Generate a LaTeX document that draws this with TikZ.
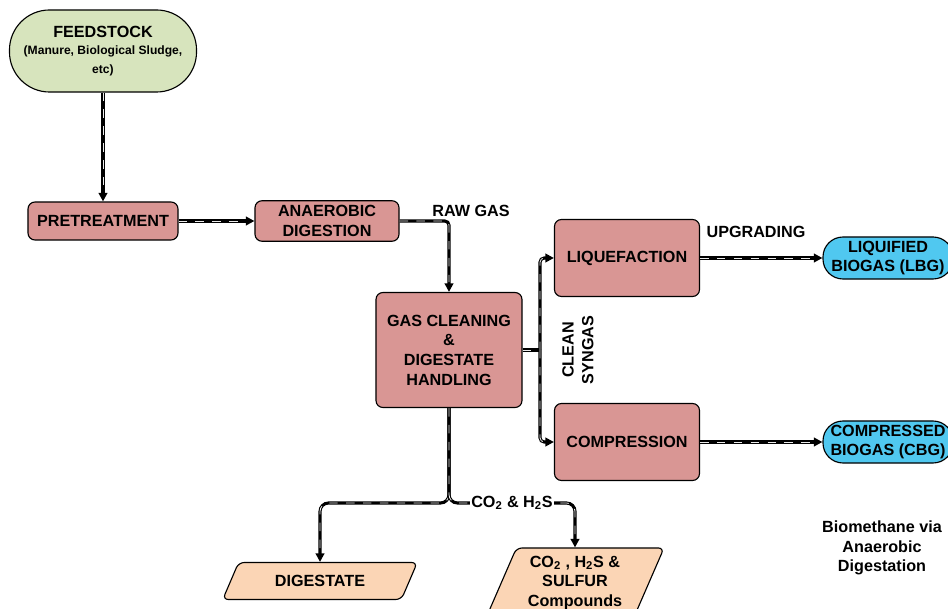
\documentclass[tikz,border=0pt]{standalone}
\usepackage{fontspec}
\setmainfont{Liberation Sans}
\usepackage{tikz}
\usetikzlibrary{positioning, arrows.meta, shapes.geometric}

\definecolor{feedgreen}{RGB}{215,228,189}
\definecolor{procrose}{RGB}{217,150,148}
\definecolor{gasblue}{RGB}{80,200,240}
\definecolor{outpeach}{RGB}{251,213,181}

\newcommand{\smalltxt}{\fontsize{8.6}{10}\selectfont}

\begin{document}
\begin{tikzpicture}[
    x=0.025cm, y=-0.025cm,
    font=\bfseries\fontsize{11.5}{14}\selectfont,
    pill/.style={rectangle, draw, line width=0.8pt, align=center, inner sep=1pt},
    proc/.style={rectangle, draw, line width=0.8pt, rounded corners=5pt, fill=procrose, align=center, minimum width=3.75cm, minimum height=0.95cm},
    outbox/.style={trapezium, trapezium stretches=true, trapezium left angle=65, trapezium right angle=115, draw, line width=0.8pt, rounded corners=4pt, fill=outpeach, align=center},
    lbl/.style={align=center, inner sep=1pt},
    flow/.style={line width=2.2pt, -{Triangle[length=6pt, width=6pt]}, postaction={draw=gray!15, line width=0.6pt, dash pattern=on 6pt off 6pt, -, shorten >=7pt}},
    flowline/.style={line width=2.2pt, postaction={draw=gray!15, line width=0.6pt, dash pattern=on 6pt off 6pt}}
]
\useasboundingbox (0,0) rectangle (948,609);

\node[pill, fill=feedgreen, rounded corners=1cm, minimum width=4.675cm, minimum height=2.05cm] (feed) at (103,51) {FEEDSTOCK\\[-2pt]{\smalltxt (Manure, Biological Sludge,}\\[-0.5pt]{\smalltxt etc)}};
\node[proc] (pre) at (103,221) {PRETREATMENT};
\node[proc, minimum width=3.6cm] (ad) at (327,221) {ANAEROBIC\\DIGESTION};
\node[proc, minimum width=3.65cm, minimum height=2.875cm] (gc) at (449,350) {GAS CLEANING\\\&\\DIGESTATE\\HANDLING};
\node[proc, minimum width=3.625cm, minimum height=1.925cm] (liq) at (627,258) {LIQUEFACTION};
\node[proc, minimum width=3.625cm, minimum height=1.925cm] (comp) at (627,442) {COMPRESSION};
\node[pill, fill=gasblue, rounded corners=0.5cm, minimum width=3.25cm, minimum height=1.05cm] (lbg) at (888,258) {LIQUIFIED\\BIOGAS (LBG)};
\node[pill, fill=gasblue, rounded corners=0.5cm, minimum width=3.25cm, minimum height=1.05cm] (cbg) at (888,442) {COMPRESSED\\BIOGAS (CBG)};
\node[outbox, minimum width=4.875cm, minimum height=0.925cm] (dig) at (320,581) {DIGESTATE};
\node[outbox, trapezium left angle=67, trapezium right angle=113, minimum width=4.45cm, minimum height=1.75cm] (sulf) at (575,583) {CO\textsubscript{2} , H\textsubscript{2}S \&\\SULFUR\\Compounds};

\coordinate (split) at (540,350);
\coordinate (fork) at (449,503);

\draw[flow] (feed) -- (pre);
\draw[flow] (pre) -- (ad);
\draw[flow, rounded corners=3pt] (ad.east) -| (gc.north);
\draw[flowline] (gc.east) -- (split);
\draw[flow, rounded corners=3pt] (split) |- (liq.west);
\draw[flow, rounded corners=3pt] (split) |- (comp.west);
\draw[flow] (liq) -- (lbg);
\draw[flow] (comp) -- (cbg);
\draw[flow, rounded corners=6pt] (gc.south) -- (fork) -| (dig.north);
\draw[flow, rounded corners=6pt] (gc.south) -- (fork) -| (sulf.north);

\node[lbl] (rawgas) at (471,211) {RAW GAS};
\node[lbl] (upgrade) at (756,232) {UPGRADING};
\node[lbl, rotate=90] (syngas) at (578,350) {CLEAN\\SYNGAS};
\node[lbl, fill=white] (co2lbl) at (512,503) {CO\textsubscript{2} \& H\textsubscript{2}S};
\node[lbl] (title) at (882,548) {Biomethane via\\Anaerobic\\Digestation};

\end{tikzpicture}
\end{document}
